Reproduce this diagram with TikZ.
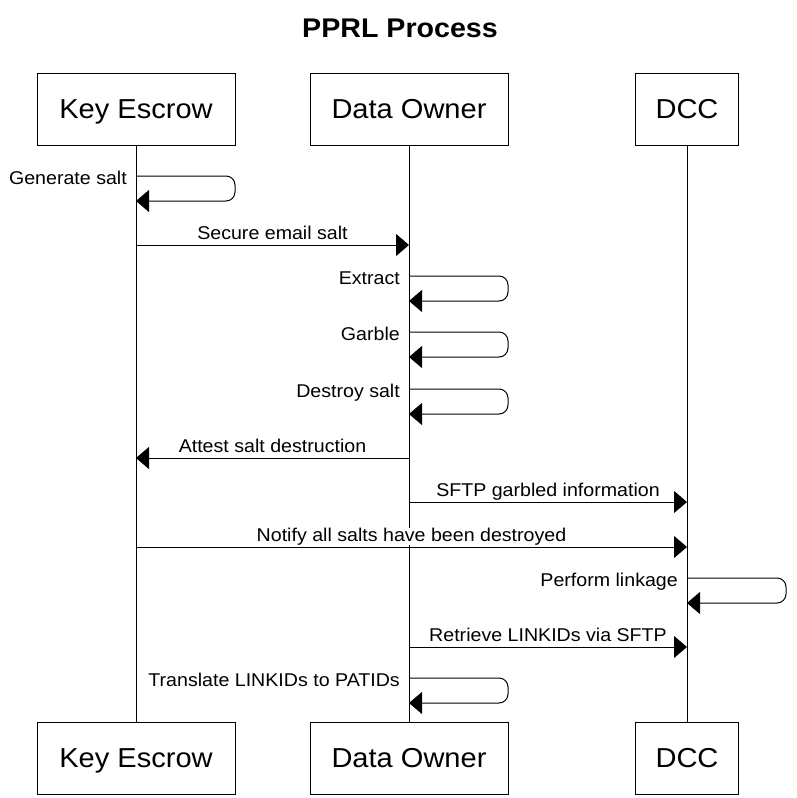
\documentclass[tikz,border=0pt]{standalone}
\usepackage{fontspec}
\setmainfont{Liberation Sans}[FakeStretch=1.06]
\usetikzlibrary{arrows.meta}
\usetikzlibrary{positioning}

\begin{document}
\begin{tikzpicture}[x=1pt, y=-1pt,
  actor/.style={draw, line width=1pt, minimum height=72pt, inner sep=0pt, text depth=0pt, font=\fontsize{27.4}{32}\selectfont},
  msg/.style={line width=1pt, -{Triangle[length=13pt, width=22pt]}},
  msglabel/.style={fill=white, inner xsep=2pt, inner ysep=0pt, font=\fontsize{18.5}{21}\selectfont},
  selfmsg/.style={msg, rounded corners=9pt}]
\useasboundingbox (0,0) rectangle (796,798);

\node[font=\bfseries\fontsize{27}{32}\selectfont] (title) at (400,28) {PPRL Process};

% participants, top and bottom
\node[actor, minimum width=198pt] (ke) at (136,109) {Key Escrow};
\node[actor, minimum width=198pt] (do) at (409,109) {Data Owner};
\node[actor, minimum width=103pt] (dcc) at (687,109) {DCC};
\node[actor, minimum width=198pt] (ke2) at (136,758) {Key Escrow};
\node[actor, minimum width=198pt] (do2) at (409,758) {Data Owner};
\node[actor, minimum width=103pt] (dcc2) at (687,758) {DCC};

% lifelines
\foreach \p in {ke,do,dcc}
  \draw[line width=1pt] (\p.south) -- (\p2.north);

% self messages
\foreach \p/\y/\txt in {ke/176/Generate salt, do/276/Extract, do/332/Garble,
    do/389/Destroy salt, dcc/578/Perform linkage, do/678/Translate LINKIDs to PATIDs} {
  \coordinate (s-\p-\y) at (\p |- 0,\y);
  \draw[selfmsg] (s-\p-\y) -- ++(99,0) -- ++(0,25) -- ++(-99,0);
  \node[msglabel, anchor=base east] (l-\p-\y) at ([shift={(-7,8)}]s-\p-\y) {\txt};
}

% messages between participants
\foreach \a/\b/\y/\txt in {ke/do/245/Secure email salt, do/ke/458/Attest salt destruction,
    do/dcc/502/SFTP garbled information, ke/dcc/547/Notify all salts have been destroyed,
    do/dcc/647/Retrieve LINKIDs via SFTP} {
  \draw[msg] (\a |- 0,\y) -- (\b |- 0,\y)
    node[msglabel, midway, anchor=base, yshift=6pt] (m-\y) {\txt};
}
\end{tikzpicture}
\end{document}
